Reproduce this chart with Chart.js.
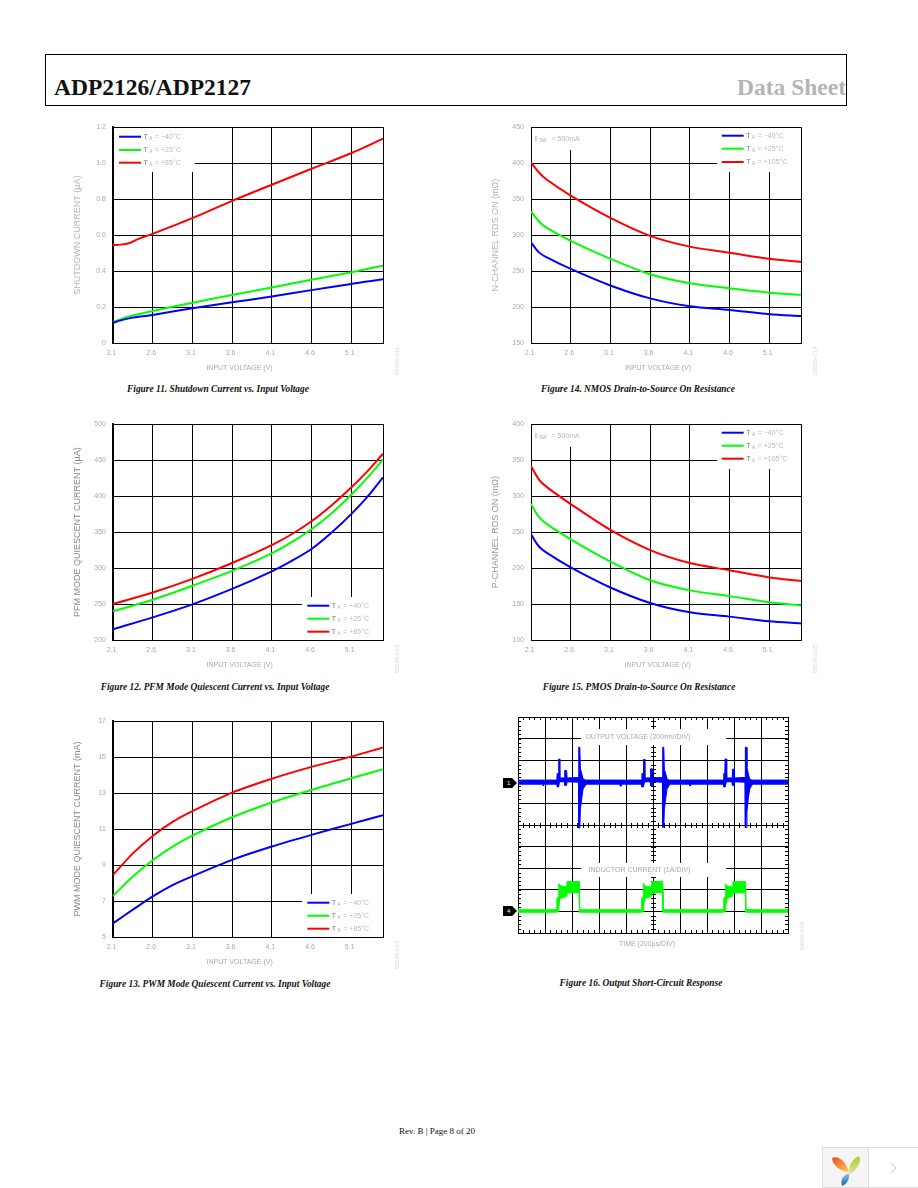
<!DOCTYPE html>
<html lang="en">
<head>
    <meta charset="UTF-8">
    <title>ADP2126/ADP2127 Data Sheet</title>
    <script src="https://cdnjs.cloudflare.com/ajax/libs/Chart.js/4.4.1/chart.umd.min.js"></script>
    <style>
        html, body { margin: 0; padding: 0; background: #fff; }
        body { position: relative; width: 918px; height: 1188px; overflow: hidden; font-family: "Liberation Serif", serif; }
        canvas { position: absolute; }
        .header-box { position: absolute; left: 45px; top: 54px; width: 800px; height: 50px; border: 1px solid #000; }
        .doc-title, .doc-sheet { position: absolute; top: 73px; font-size: 23.5px; font-weight: bold; line-height: 29px; white-space: nowrap; }
        .doc-title { left: 54px; color: #111; }
        .doc-sheet { right: 72px; color: #b5b5b5; }
        .caption { position: absolute; width: 300px; margin-left: -150px; text-align: center; font-size: 9.4px; font-weight: bold; font-style: italic; line-height: 12px; white-space: nowrap; color: #111; }
        .part-no { position: absolute; font: 6px "Liberation Sans", sans-serif; color: #d8d8d8; transform: translate(-50%, -50%) rotate(-90deg); white-space: nowrap; }
        .marker { position: absolute; left: 503px; width: 14px; height: 10px; background: #000; color: #fff; font: 6px/10px "Liberation Sans", sans-serif; text-indent: 4px; clip-path: polygon(0 0, 65% 0, 100% 50%, 65% 100%, 0 100%); }
        .footer { position: absolute; left: 399px; top: 1125px; font-size: 9px; line-height: 12px; white-space: nowrap; color: #111; }
    </style>
</head>
<body>
    <div class="header-box"></div>
    <div class="doc-title">ADP2126/ADP2127</div>
    <div class="doc-sheet">Data Sheet</div>

    <canvas id="fig11" width="344" height="259" style="left:63px;top:116px"></canvas>
    <canvas id="fig14" width="344" height="259" style="left:481px;top:116px"></canvas>
    <canvas id="fig12" width="344" height="259" style="left:63px;top:413px"></canvas>
    <canvas id="fig15" width="344" height="259" style="left:481px;top:413px"></canvas>
    <canvas id="fig13" width="344" height="259" style="left:63px;top:710px"></canvas>
    <canvas id="fig16" width="300" height="240" style="left:498px;top:709px"></canvas>

    <div class="caption" style="left:218px;top:383px">Figure 11. Shutdown Current vs. Input Voltage</div>
    <div class="caption" style="left:638px;top:383px">Figure 14. NMOS Drain-to-Source On Resistance</div>
    <div class="caption" style="left:215px;top:681px">Figure 12. PFM Mode Quiescent Current vs. Input Voltage</div>
    <div class="caption" style="left:639px;top:681px">Figure 15. PMOS Drain-to-Source On Resistance</div>
    <div class="caption" style="left:215px;top:978px">Figure 13. PWM Mode Quiescent Current vs. Input Voltage</div>
    <div class="caption" style="left:641px;top:977px">Figure 16. Output Short-Circuit Response</div>

    <div class="part-no" style="left:397px;top:361px">09506-011</div>
    <div class="part-no" style="left:815px;top:361px">09506-014</div>
    <div class="part-no" style="left:397px;top:659px">09506-012</div>
    <div class="part-no" style="left:815px;top:659px">09506-015</div>
    <div class="part-no" style="left:397px;top:955px">09506-013</div>
    <div class="part-no" style="left:802px;top:936px">09506-016</div>

    <div class="marker" style="top:778px">1</div>
    <div class="marker" style="top:906px">4</div>

    <div class="footer">Rev. B | Page 8 of 20</div>

    <!-- Viewer widget in the corner -->
    <svg style="position:absolute;left:822px;top:1147px" width="96" height="41">
        <defs>
            <linearGradient id="petalRed" x1="0" x2="1" y1="0" y2="1"><stop offset="0" stop-color="#e8491d"/><stop offset="1" stop-color="#fbd15b"/></linearGradient>
            <linearGradient id="petalGreen" x1="0" x2="0" y1="0" y2="1"><stop offset="0" stop-color="#a6cf3a"/><stop offset="1" stop-color="#e1e68c"/></linearGradient>
            <linearGradient id="petalBlue" x1="0" x2="0" y1="1" y2="0"><stop offset="0" stop-color="#0b63b0"/><stop offset="1" stop-color="#9ccbe8"/></linearGradient>
        </defs>
        <rect x="0.5" y="0.5" width="46" height="40" fill="#f5f5f5" stroke="#ddd"/>
        <rect x="46.5" y="0.5" width="50" height="40" fill="#fff" stroke="#ddd"/>
        <path d="M10 11 C15 8 24 13 27 25 C19 24 11 20 10 11 Z" fill="url(#petalRed)"/>
        <path d="M37 9 C40 14 36 22 28 27 C25 20 30 12 37 9 Z" fill="url(#petalGreen)"/>
        <path d="M27 26 C28 32 25 37 20 39 C18 33 21 28 27 26 Z" fill="url(#petalBlue)"/>
        <path d="M69 16 L74 21 L69 26" fill="none" stroke="#c8c8c8"/>
    </svg>

    <script>
        // Figure 11 - shutdown current (uA)
        const shutdownVolts = [2.1, 2.2, 2.3, 2.4, 2.5, 2.6, 3.1, 3.6, 4.1, 4.6, 5.1, 5.3, 5.5];
        const shutdownCold = [0.113, 0.126, 0.137, 0.144, 0.150, 0.156, 0.193, 0.226, 0.259, 0.294, 0.328, 0.342, 0.354];
        const shutdownRoom = [0.115, 0.133, 0.148, 0.158, 0.168, 0.178, 0.224, 0.267, 0.309, 0.352, 0.393, 0.412, 0.430];
        const shutdownHot = [0.545, 0.547, 0.555, 0.575, 0.592, 0.607, 0.694, 0.790, 0.880, 0.969, 1.055, 1.095, 1.137];
        const shutdownTicks = ['0', '0.2', '0.4', '0.6', '0.8', '1.0', '1.2'];

        // Figure 12 - PFM mode quiescent current (uA)
        const pfmVolts = [2.1, 2.6, 3.1, 3.6, 4.1, 4.35, 4.6, 4.85, 5.1, 5.3, 5.5];
        const pfmCold = [215, 231.5, 249.6, 271, 295.5, 310, 326.5, 349, 375, 398.5, 426];
        const pfmRoom = [240, 256, 275.5, 296, 320.5, 336, 354, 376, 402, 425, 451];
        const pfmHot = [250, 266, 285, 307, 332, 347, 365, 387, 412, 434, 459];
        const pfmTicks = ['200', '250', '300', '350', '400', '450', '500'];

        // Figure 13 - PWM mode quiescent current (mA)
        const pwmVolts = [2.1, 2.35, 2.6, 2.85, 3.1, 3.6, 4.1, 4.6, 5.1, 5.5];
        const pwmCold = [5.76, 6.52, 7.26, 7.89, 8.38, 9.29, 10.03, 10.68, 11.29, 11.77];
        const pwmRoom = [7.28, 8.36, 9.27, 10.03, 10.64, 11.66, 12.48, 13.18, 13.83, 14.33];
        const pwmHot = [8.45, 9.65, 10.62, 11.4, 12.0, 13.03, 13.8, 14.46, 15.03, 15.54];
        const pwmTicks = ['5', '7', '9', '11', '13', '15', '17'];

        // Figure 14 - NMOS on resistance (mOhm)
        const nmosVolts = [2.1, 2.2, 2.3, 2.6, 3.1, 3.6, 4.1, 4.6, 5.1, 5.5];
        const nmosCold = [290, 276, 269, 253, 230, 212, 201, 196, 190, 187.5];
        const nmosRoom = [333, 319, 310, 292, 267, 245.5, 233, 226, 220, 217];
        const nmosHot = [401, 387, 377, 355, 324, 299, 284, 275.5, 267, 262.5];
        const nmosTicks = ['150', '200', '250', '300', '350', '400', '450'];

        // Figure 15 - PMOS on resistance (mOhm)
        const pmosVolts = [2.1, 2.2, 2.3, 2.6, 3.1, 3.6, 4.1, 4.6, 5.1, 5.5];
        const pmosCold = [247, 230, 221, 201, 173, 151.5, 138.5, 132.5, 126, 123];
        const pmosRoom = [289, 271, 261, 240, 209, 183, 169, 161, 152.5, 148];
        const pmosHot = [342, 323, 312.5, 289, 253, 225, 207, 197, 187, 182];
        const pmosTicks = ['100', '150', '200', '250', '300', '350', '400'];

        const voltTicks = ['2.1', '2.6', '3.1', '3.6', '4.1', '4.6', '5.1', ''];
        const voltTickValues = [2.1, 2.6, 3.1, 3.6, 4.1, 4.6, 5.1, 5.5];
        const tempsA = ['\u221240\u00b0C', '+25\u00b0C', '+85\u00b0C'];
        const tempsB = ['\u221240\u00b0C', '+25\u00b0C', '+105\u00b0C'];
        const curveColors = ['#0000ff', '#00ff00', '#ff0000'];

        // Figure 16 - scope traces, in grid divisions (envelope of the fuzzy trace)
        const voltageTime = [0, 0.92, 0.93, 0.96, 0.97, 1.44, 1.45, 1.5, 1.51, 1.53, 1.55, 1.72, 1.73, 1.8, 1.82, 2.24, 2.25, 2.29, 2.31, 2.36, 2.41, 2.5, 2.55,
            3.78, 3.79, 3.82, 3.83, 4.58, 4.59, 4.64, 4.65, 4.68, 4.7, 4.9, 4.91, 4.97, 4.99, 5.35, 5.36, 5.4, 5.42, 5.47, 5.52, 5.6, 5.65,
            6.35, 6.36, 6.39, 6.4, 7.61, 7.62, 7.66, 7.67, 7.71, 7.73, 7.93, 7.94, 8.0, 8.02, 8.41, 8.42, 8.46, 8.48, 8.53, 8.58, 8.66, 8.71, 10];
        const voltageUpper = [7.08, 7.08, 7.08, 7.08, 7.08, 7.08, 7.38, 7.38, 8.06, 8.06, 7.18, 7.18, 7.52, 7.52, 7.18, 7.2, 8.6, 8.6, 7.62, 7.38, 7.13, 7.08, 7.08,
            7.08, 7.08, 7.08, 7.08, 7.08, 7.38, 7.38, 8.04, 8.04, 7.18, 7.18, 7.6, 7.6, 7.18, 7.2, 8.6, 8.6, 7.58, 7.38, 7.13, 7.08, 7.08,
            7.08, 7.08, 7.08, 7.08, 7.08, 7.38, 7.38, 8.06, 8.06, 7.18, 7.18, 7.58, 7.58, 7.18, 7.2, 8.6, 8.6, 7.68, 7.38, 7.13, 7.08, 7.08, 7.08];
        const voltageLower = [6.89, 6.89, 6.8, 6.8, 6.89, 6.89, 6.76, 6.76, 6.76, 7.0, 7.0, 7.0, 6.84, 6.84, 7.0, 6.98, 4.86, 4.86, 5.72, 6.22, 6.67, 6.84, 6.89,
            6.89, 6.8, 6.8, 6.89, 6.89, 6.76, 6.76, 6.76, 7.0, 7.0, 7.0, 6.82, 6.82, 7.0, 6.98, 4.9, 4.9, 5.72, 6.22, 6.67, 6.84, 6.89,
            6.89, 6.82, 6.82, 6.89, 6.89, 6.76, 6.76, 6.76, 7.0, 7.0, 7.0, 6.84, 6.84, 7.0, 6.98, 4.88, 4.88, 5.62, 6.22, 6.67, 6.84, 6.89, 6.89];

        const currentTime = [0, 1.42, 1.44, 1.5, 1.51, 1.56, 1.8, 1.82, 2.26, 2.27, 2.29,
            4.56, 4.58, 4.64, 4.65, 4.7, 4.93, 4.95, 5.36, 5.37, 5.39,
            7.6, 7.62, 7.68, 7.69, 7.74, 7.94, 7.96, 8.42, 8.43, 8.45, 10];
        const currentUpper = [1.08, 1.08, 1.6, 1.7, 2.28, 2.2, 2.12, 2.38, 2.38, 2.38, 1.08,
            1.08, 1.6, 1.7, 2.3, 2.18, 2.12, 2.38, 2.38, 2.38, 1.08,
            1.08, 1.6, 1.7, 2.28, 2.18, 2.12, 2.38, 2.38, 2.38, 1.08, 1.08];
        const currentLower = [0.96, 0.96, 0.96, 1.0, 1.2, 1.6, 1.7, 1.85, 1.88, 0.96, 0.96,
            0.96, 0.96, 1.0, 1.2, 1.6, 1.7, 1.85, 1.88, 0.96, 0.96,
            0.96, 0.96, 1.0, 1.2, 1.6, 1.7, 1.85, 1.88, 0.96, 0.96, 0.96];
        const scopeDivisions = [0, 1, 2, 3, 4, 5, 6, 7, 8, 9, 10];

        const TICK_GREY = '#aaaaaa';
        const SANS = '"Liberation Sans", sans-serif';

        // Small tick marks along the scope frame and centre lines
        Chart.register({
            id: 'scopeTicks',
            beforeDatasetsDraw(chart, args, opts) {
                if (!opts.show) return;
                const { ctx, chartArea: a, scales: { x, y } } = chart;
                const cx = x.getPixelForValue(5), cy = y.getPixelForValue(5);
                ctx.save();
                ctx.strokeStyle = '#000';
                ctx.lineWidth = 1;
                ctx.beginPath();
                for (let i = 1; i < 50; i++) {
                    const px = Math.round(x.getPixelForValue(i / 5)) + 0.5;
                    const py = Math.round(y.getPixelForValue(i / 5)) + 0.5;
                    ctx.moveTo(px, a.top); ctx.lineTo(px, a.top + 3);
                    ctx.moveTo(px, a.bottom); ctx.lineTo(px, a.bottom - 3);
                    ctx.moveTo(px, cy - 2); ctx.lineTo(px, cy + 3);
                    ctx.moveTo(a.left, py); ctx.lineTo(a.left + 3, py);
                    ctx.moveTo(a.right, py); ctx.lineTo(a.right - 3, py);
                    ctx.moveTo(cx - 2, py); ctx.lineTo(cx + 3, py);
                }
                ctx.stroke();
                ctx.restore();
            }
        });

        // White label boxes over the grid, inset legend and free text. Positions are page pixels.
        Chart.register({
            id: 'notes',
            beforeDatasetsDraw(chart, args, opts) {
                const ctx = chart.ctx;
                const box = chart.canvas.getBoundingClientRect();
                ctx.save();
                ctx.translate(-box.left, -box.top);
                ctx.fillStyle = '#fff';
                (opts.boxes || []).forEach(b => ctx.fillRect(b[0], b[1], b[2], b[3]));
                ctx.textBaseline = 'middle';

                if (opts.legend) {
                    const l = opts.legend;
                    chart.data.datasets.forEach((ds, i) => {
                        ctx.strokeStyle = ds.borderColor;
                        ctx.lineWidth = 2;
                        ctx.beginPath();
                        ctx.moveTo(l.x, l.rows[i]);
                        ctx.lineTo(l.x + 22, l.rows[i]);
                        ctx.stroke();
                        drawSymbol(ctx, 'T', 'A', l.x + 24.5, l.rows[i]);
                        ctx.fillStyle = '#bbbbbb';
                        ctx.textAlign = 'left';
                        ctx.font = '7px ' + SANS;
                        ctx.fillText('= ' + ds.label, l.x + 36, l.rows[i]);
                    });
                }
                if (opts.current) {
                    drawSymbol(ctx, 'I', 'SW', opts.current[0], opts.current[1]);
                    ctx.fillStyle = '#bbbbbb';
                    ctx.textAlign = 'left';
                    ctx.font = '7px ' + SANS;
                    ctx.fillText('= 500mA', opts.current[0] + 16.5, opts.current[1]);
                }
                (opts.texts || []).forEach(t => {
                    ctx.fillStyle = t[3] || TICK_GREY;
                    ctx.textAlign = 'center';
                    ctx.font = '7px ' + SANS;
                    ctx.fillText(t[0], t[1], t[2]);
                });
                ctx.restore();
            }
        });

        function drawSymbol(ctx, main, sub, x, y) {
            ctx.textAlign = 'left';
            ctx.fillStyle = '#777777';
            ctx.font = '7px ' + SANS;
            ctx.fillText(main, x, y);
            ctx.fillStyle = '#aaaaaa';
            ctx.font = '4.5px ' + SANS;
            ctx.fillText(sub, x + ctx.measureText(main).width + 3, y + 2);
        }

        function fixedAxis(axis, size) {
            return scale => { scale[axis] = size; };
        }

        function curveChart(id, opts) {
            const tickValues = opts.yTicks.map(Number);
            const series = [opts.cold, opts.room, opts.hot];
            return new Chart(id, {
                type: 'line',
                data: {
                    datasets: series.map((values, i) => ({
                        label: opts.temps[i],
                        data: values.map((v, j) => ({ x: opts.volts[j], y: v })),
                        borderColor: curveColors[i],
                        borderWidth: 2,
                        pointRadius: 0,
                        tension: 0.3
                    }))
                },
                options: {
                    responsive: false,
                    animation: false,
                    devicePixelRatio: 1,
                    layout: { padding: { top: 8, right: 24, left: 0, bottom: 0 } },
                    plugins: {
                        legend: { display: false },
                        tooltip: { enabled: false },
                        notes: { boxes: opts.boxes, legend: opts.legend, current: opts.current, texts: opts.texts }
                    },
                    scales: {
                        x: {
                            type: 'linear',
                            min: 2.1,
                            max: 5.5,
                            afterFit: fixedAxis('height', 32),
                            afterBuildTicks: s => { s.ticks = voltTickValues.map(value => ({ value })); },
                            grid: { color: '#000', lineWidth: 1, drawTicks: false },
                            border: { color: '#000', width: 1 },
                            ticks: {
                                autoSkip: false, maxRotation: 0, padding: 6, labelOffset: -1.5, color: TICK_GREY,
                                font: { family: SANS, size: 7 },
                                callback: (v, i) => voltTicks[i]
                            }
                        },
                        y: {
                            min: tickValues[0],
                            max: tickValues[tickValues.length - 1],
                            afterFit: fixedAxis('width', opts.yWidth),
                            afterBuildTicks: s => { s.ticks = tickValues.map(value => ({ value })); },
                            grid: { color: '#000', lineWidth: 1, drawTicks: false },
                            border: { color: '#000', width: opts.edge },
                            ticks: {
                                autoSkip: false, padding: 7, color: TICK_GREY,
                                font: { family: SANS, size: 7 },
                                callback: (v, i) => opts.yTicks[i]
                            },
                            title: {
                                display: true,
                                text: opts.yTitle,
                                color: opts.titleColor,
                                padding: { top: 9, bottom: 0 },
                                font: { family: SANS, size: 9 }
                            }
                        }
                    }
                }
            });
        }

        curveChart('fig11', {
            volts: shutdownVolts, cold: shutdownCold, room: shutdownRoom, hot: shutdownHot, temps: tempsA,
            yTicks: shutdownTicks, yTitle: 'SHUTDOWN CURRENT (\u00b5A)', titleColor: '#b5b5b5', yWidth: 50, edge: 2,
            boxes: [[114, 128, 81, 44]],
            legend: { x: 119, rows: [136.7, 150, 162.7] },
            texts: [['INPUT VOLTAGE (V)', 239.5, 367.7]]
        });
        curveChart('fig14', {
            volts: nmosVolts, cold: nmosCold, room: nmosRoom, hot: nmosHot, temps: tempsB,
            yTicks: nmosTicks, yTitle: 'N-CHANNEL RDS ON (m\u03a9)', titleColor: '#b5b5b5', yWidth: 50, edge: 1,
            boxes: [[717, 128, 84, 44], [532, 128, 50, 22]],
            legend: { x: 721.7, rows: [135.7, 148.7, 162] },
            current: [535, 139],
            texts: [['INPUT VOLTAGE (V)', 658, 367.7]]
        });
        curveChart('fig12', {
            volts: pfmVolts, cold: pfmCold, room: pfmRoom, hot: pfmHot, temps: tempsA,
            yTicks: pfmTicks, yTitle: 'PFM MODE QUIESCENT CURRENT (\u00b5A)', titleColor: '#8a8a8a', yWidth: 50, edge: 2,
            boxes: [[302, 597, 81, 43]],
            legend: { x: 307.3, rows: [605.7, 618.7, 631.7] },
            texts: [['INPUT VOLTAGE (V)', 239.6, 664.7]]
        });
        curveChart('fig15', {
            volts: pmosVolts, cold: pmosCold, room: pmosRoom, hot: pmosHot, temps: tempsB,
            yTicks: pmosTicks, yTitle: 'P-CHANNEL RDS ON (m\u03a9)', titleColor: '#999999', yWidth: 50, edge: 1,
            boxes: [[717, 425, 84, 44], [532, 425, 50, 22]],
            legend: { x: 721.7, rows: [432.7, 445.7, 458.7] },
            current: [535, 436],
            texts: [['INPUT VOLTAGE (V)', 657.7, 664.7]]
        });
        curveChart('fig13', {
            volts: pwmVolts, cold: pwmCold, room: pwmRoom, hot: pwmHot, temps: tempsA,
            yTicks: pwmTicks, yTitle: 'PWM MODE QUIESCENT CURRENT (mA)', titleColor: '#8a8a8a', yWidth: 50, edge: 2,
            boxes: [[302, 894, 81, 43]],
            legend: { x: 307.3, rows: [902.7, 915.7, 928.7] },
            texts: [['INPUT VOLTAGE (V)', 239.6, 961.7]]
        });

        function traceData(times, values) {
            return values.map((v, i) => ({ x: times[i], y: v }));
        }

        new Chart('fig16', {
            type: 'line',
            data: {
                datasets: [
                    { label: 'Output voltage upper', data: traceData(voltageTime, voltageUpper), borderColor: '#0000ff', backgroundColor: '#0000ff', borderWidth: 1, pointRadius: 0, tension: 0, fill: '+1' },
                    { label: 'Output voltage lower', data: traceData(voltageTime, voltageLower), borderColor: '#0000ff', borderWidth: 1, pointRadius: 0, tension: 0 },
                    { label: 'Inductor current upper', data: traceData(currentTime, currentUpper), borderColor: '#00ff00', backgroundColor: '#00ff00', borderWidth: 1, pointRadius: 0, tension: 0, fill: '+1' },
                    { label: 'Inductor current lower', data: traceData(currentTime, currentLower), borderColor: '#00ff00', borderWidth: 1, pointRadius: 0, tension: 0 }
                ]
            },
            options: {
                responsive: false,
                animation: false,
                devicePixelRatio: 1,
                layout: { padding: { top: 8, right: 10, left: 20, bottom: 16 } },
                plugins: {
                    legend: { display: false },
                    tooltip: { enabled: false },
                    scopeTicks: { show: true },
                    notes: {
                        boxes: [[581, 729, 145, 16], [581, 863, 145, 14]],
                        texts: [
                            ['OUTPUT VOLTAGE (200mV/DIV)', 638, 736.7],
                            ['INDUCTOR CURRENT (1A/DIV)', 639.5, 869.7],
                            ['TIME (200\u00b5s/DIV)', 647, 943.7]
                        ]
                    }
                },
                scales: {
                    x: {
                        type: 'linear', min: 0, max: 10,
                        afterFit: fixedAxis('height', 0),
                        afterBuildTicks: s => { s.ticks = scopeDivisions.map(value => ({ value })); },
                        grid: { color: '#000', lineWidth: 1, drawTicks: false },
                        border: { color: '#000' },
                        ticks: { display: false }
                    },
                    y: {
                        min: 0, max: 10,
                        afterFit: fixedAxis('width', 0),
                        afterBuildTicks: s => { s.ticks = scopeDivisions.map(value => ({ value })); },
                        grid: { color: '#000', lineWidth: 1, drawTicks: false },
                        border: { color: '#000' },
                        ticks: { display: false }
                    }
                }
            }
        });
    </script>
</body>
</html>
